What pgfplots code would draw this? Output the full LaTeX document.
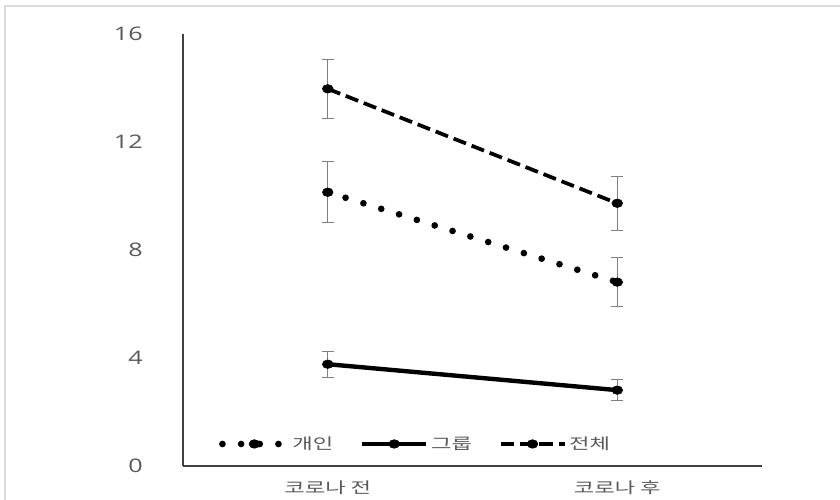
\documentclass[border=0pt]{standalone}
\usepackage{fontspec}
\setmainfont{Open Sans}[FakeStretch=1.35]
\newfontfamily\kr{Noto Sans CJK KR}[FakeStretch=1.45]
\usepackage{pgfplots}
\pgfplotsset{compat=1.18}
\definecolor{txt}{HTML}{595959}
\definecolor{axl}{HTML}{404040}
\definecolor{ebar}{HTML}{7F7F7F}
\definecolor{brd}{HTML}{D9D9D9}
\pgfplotsset{
  myerr/.style={
    error bars/.cd, y dir=both, y explicit,
    error bar style={ebar, line width=0.75pt, solid},
    error mark options={rotate=90, mark size=4.5pt, ebar, line width=0.75pt, solid},
  },
}
\begin{document}
\begin{tikzpicture}
\path[use as bounding box] (0,0) rectangle (630pt,375pt);
\draw[brd, line width=0.9pt] (3.75pt,-5pt) -- (3.75pt,370.5pt) -- (640pt,370.5pt);
\begin{axis}[
  at={(137.25pt,25.5pt)}, anchor=south west, scale only axis,
  width=434.25pt, height=324pt,
  xmin=-0.5, xmax=1.5, ymin=0, ymax=16,
  axis lines*=left,
  axis line style={axl, line width=0.9pt},
  xtick={0,1}, xticklabels={코로나 전, 코로나 후},
  ytick={0,4,8,12,16},
  major tick length=0pt,
  tick style={draw=none},
  /pgf/number format/assume math mode=true,
  yticklabel style={font=\fontsize{14}{16}\selectfont, text=txt, anchor=east, inner sep=0pt, xshift=-30pt},
  xticklabel style={font=\kr\fontsize{11.5}{13}\selectfont, text=txt, anchor=center, inner sep=0pt, yshift=-16.5pt},
  clip=false,
  legend style={draw=none, fill=none, at={(0.055,0.051)}, anchor=west,
    font=\kr\fontsize{11.5}{13}\selectfont, text=txt,
    /tikz/every even column/.append style={column sep=18pt}},
  legend columns=3,
  legend image code/.code={\draw[mark repeat=2, mark phase=2, #1] plot coordinates {(0pt,0pt) (24pt,0pt) (48pt,0pt)};},
]
\addplot[black, line width=5pt, dash pattern=on 0pt off 14pt, line cap=round,
  mark=*, mark size=3.2pt, mark options={solid, xscale=1.25, line width=0.5pt}, myerr]
  coordinates {(0,10.14) +- (0,1.13) (1,6.81) +- (0,0.92)};
\addlegendentry{개인}
\addplot[black, line width=3.3pt, solid,
  mark=*, mark size=3.2pt, mark options={solid, xscale=1.25, line width=0.5pt}, myerr]
  coordinates {(0,3.77) +- (0,0.48) (1,2.81) +- (0,0.40)};
\addlegendentry{그룹}
\addplot[black, line width=2.8pt, dash pattern=on 10pt off 4.5pt,
  mark=*, mark size=3.2pt, mark options={solid, xscale=1.25, line width=0.5pt}, myerr]
  coordinates {(0,13.97) +- (0,1.1) (1,9.73) +- (0,1.0)};
\addlegendentry{전체}
\end{axis}
\end{tikzpicture}
\end{document}
